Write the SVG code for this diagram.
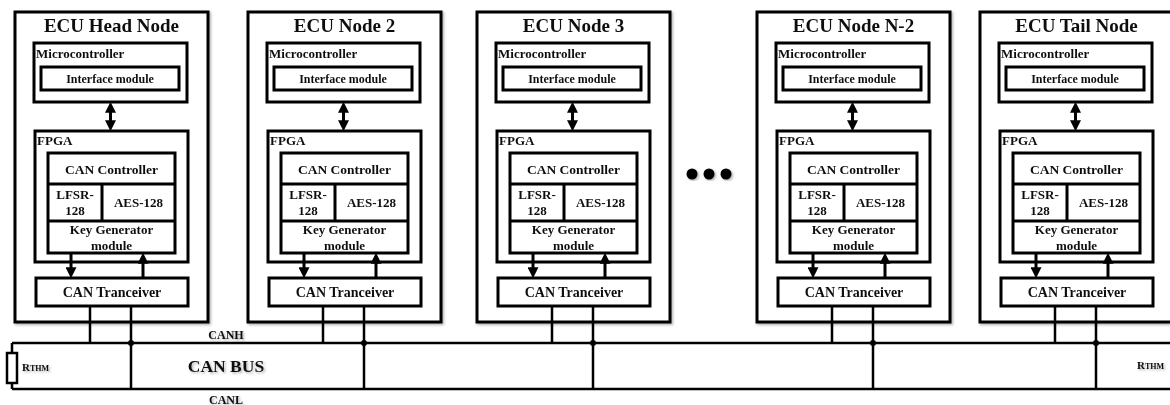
<svg xmlns="http://www.w3.org/2000/svg" xmlns:xlink="http://www.w3.org/1999/xlink" width="1170" height="405" viewBox="0 0 1170 405">
  <defs>
    <style>
      .box { fill: #fff; stroke: #000; stroke-width: 3; }
      .t { font-family: "Liberation Serif", "Times New Roman", serif; font-weight: bold; fill: #111; }
      .title { font-size: 19px; text-anchor: middle; }
      .lbl { font-size: 13px; }
      .mid { text-anchor: middle; }
      .wire { fill: none; stroke: #000; stroke-width: 3; }
      .bus { fill: none; stroke: #000; stroke-width: 2.5; }
      .shadow { filter: url(#soft); }
    </style>
    <filter id="soft" x="-5%" y="-5%" width="115%" height="115%">
      <feDropShadow dx="1.5" dy="1.5" stdDeviation="1.2" flood-color="#000" flood-opacity="0.3"/>
    </filter>
    <marker id="head" viewBox="0 0 10 10" refX="3" refY="5" markerWidth="11" markerHeight="11" markerUnits="userSpaceOnUse" orient="auto-start-reverse">
      <path d="M0,0 L10,5 L0,10 z" fill="#000"/>
    </marker>
    <!-- shared ECU body: microcontroller, FPGA stack and transceiver -->
    <g id="ecu-body">
      <rect class="box" x="0" y="12" width="193" height="310"/>
      <rect class="box" x="19" y="43" width="153" height="59"/>
      <text class="t lbl" x="21" y="58">Microcontroller</text>
      <rect class="box" x="26" y="67" width="138" height="23"/>
      <text class="t mid" x="95" y="83" font-size="12">Interface module</text>
      <rect class="box" x="20" y="131" width="153" height="131"/>
      <text class="t lbl" x="22" y="145">FPGA</text>
      <rect class="box" x="33" y="153" width="127" height="100"/>
      <path class="wire" d="M33,184 H160 M33,221 H160 M87,184 V221"/>
      <text class="t mid" x="96.5" y="174" font-size="13.5">CAN Controller</text>
      <text class="t lbl mid" x="60" y="199">LFSR-</text>
      <text class="t lbl mid" x="60" y="215">128</text>
      <text class="t lbl mid" x="123.5" y="207">AES-128</text>
      <text class="t lbl mid" x="96.5" y="234">Key Generator</text>
      <text class="t lbl mid" x="96.5" y="250">module</text>
      <rect class="box" x="21" y="278" width="152" height="28"/>
      <text class="t mid" x="97" y="297" font-size="14">CAN Tranceiver</text>
    </g>
  </defs>

  <rect width="1170" height="405" fill="#fff"/>

  <g id="node-head" class="shadow" transform="translate(15,0)">
    <use xlink:href="#ecu-body"/>
    <text class="t title" x="96.5" y="32">ECU Head Node</text>
  </g>
  <g id="node-2" class="shadow" transform="translate(248,0)">
    <use xlink:href="#ecu-body"/>
    <text class="t title" x="96.5" y="32">ECU Node 2</text>
  </g>
  <g id="node-3" class="shadow" transform="translate(477,0)">
    <use xlink:href="#ecu-body"/>
    <text class="t title" x="96.5" y="32">ECU Node 3</text>
  </g>
  <g id="node-n2" class="shadow" transform="translate(757,0)">
    <use xlink:href="#ecu-body"/>
    <text class="t title" x="96.5" y="32">ECU Node N-2</text>
  </g>
  <g id="node-tail" class="shadow" transform="translate(980,0)">
    <use xlink:href="#ecu-body"/>
    <text class="t title" x="96.5" y="32">ECU Tail Node</text>
  </g>

  <!-- ellipsis between node 3 and node N-2 -->
  <g id="ellipsis" class="shadow">
    <circle cx="692" cy="174" r="5.5"/>
    <circle cx="709" cy="174" r="5.5"/>
    <circle cx="726" cy="174" r="5.5"/>
  </g>

  <g id="bus">
    <path class="bus" d="M12,343 H1170 M12,389 H1170 M12,343 V389"/>
    <rect x="7" y="353" width="10" height="30" fill="#fff" stroke="#000" stroke-width="2.5"/>
    <g class="shadow">
      <text class="t" x="22" y="371" font-size="11">R<tspan font-size="8">THM</tspan></text>
      <text class="t" x="1137" y="369" font-size="11">R<tspan font-size="8">THM</tspan></text>
      <text class="t mid" x="226" y="339" font-size="12">CANH</text>
      <text class="t mid" x="226" y="372" font-size="17.5">CAN BUS</text>
      <text class="t mid" x="226" y="404" font-size="12">CANL</text>
    </g>
  </g>

  <g id="connectors">
    <!-- microcontroller <-> FPGA -->
    <path class="wire" marker-start="url(#head)" marker-end="url(#head)" d="M110.5,109.5 V123.5"/>
    <path class="wire" marker-start="url(#head)" marker-end="url(#head)" d="M343.5,109.5 V123.5"/>
    <path class="wire" marker-start="url(#head)" marker-end="url(#head)" d="M572.5,109.5 V123.5"/>
    <path class="wire" marker-start="url(#head)" marker-end="url(#head)" d="M852.5,109.5 V123.5"/>
    <path class="wire" marker-start="url(#head)" marker-end="url(#head)" d="M1075.5,109.5 V123.5"/>
    <!-- key generator -> transceiver -->
    <path class="wire" marker-end="url(#head)" d="M71,253 V270.5"/>
    <path class="wire" marker-end="url(#head)" d="M304,253 V270.5"/>
    <path class="wire" marker-end="url(#head)" d="M533,253 V270.5"/>
    <path class="wire" marker-end="url(#head)" d="M813,253 V270.5"/>
    <path class="wire" marker-end="url(#head)" d="M1036,253 V270.5"/>
    <!-- transceiver -> key generator -->
    <path class="wire" marker-end="url(#head)" d="M143,278 V260.5"/>
    <path class="wire" marker-end="url(#head)" d="M376,278 V260.5"/>
    <path class="wire" marker-end="url(#head)" d="M605,278 V260.5"/>
    <path class="wire" marker-end="url(#head)" d="M885,278 V260.5"/>
    <path class="wire" marker-end="url(#head)" d="M1108,278 V260.5"/>
    <!-- transceiver taps onto CANH / CANL -->
    <path class="bus" d="M90,306 V343 M131,306 V389"/>
    <path class="bus" d="M323,306 V343 M364,306 V389"/>
    <path class="bus" d="M552,306 V343 M593,306 V389"/>
    <path class="bus" d="M832,306 V343 M873,306 V389"/>
    <path class="bus" d="M1055,306 V343 M1096,306 V389"/>
    <circle cx="131" cy="343" r="3"/>
    <circle cx="364" cy="343" r="3"/>
    <circle cx="593" cy="343" r="3"/>
    <circle cx="873" cy="343" r="3"/>
    <circle cx="1096" cy="343" r="3"/>
  </g>
</svg>
